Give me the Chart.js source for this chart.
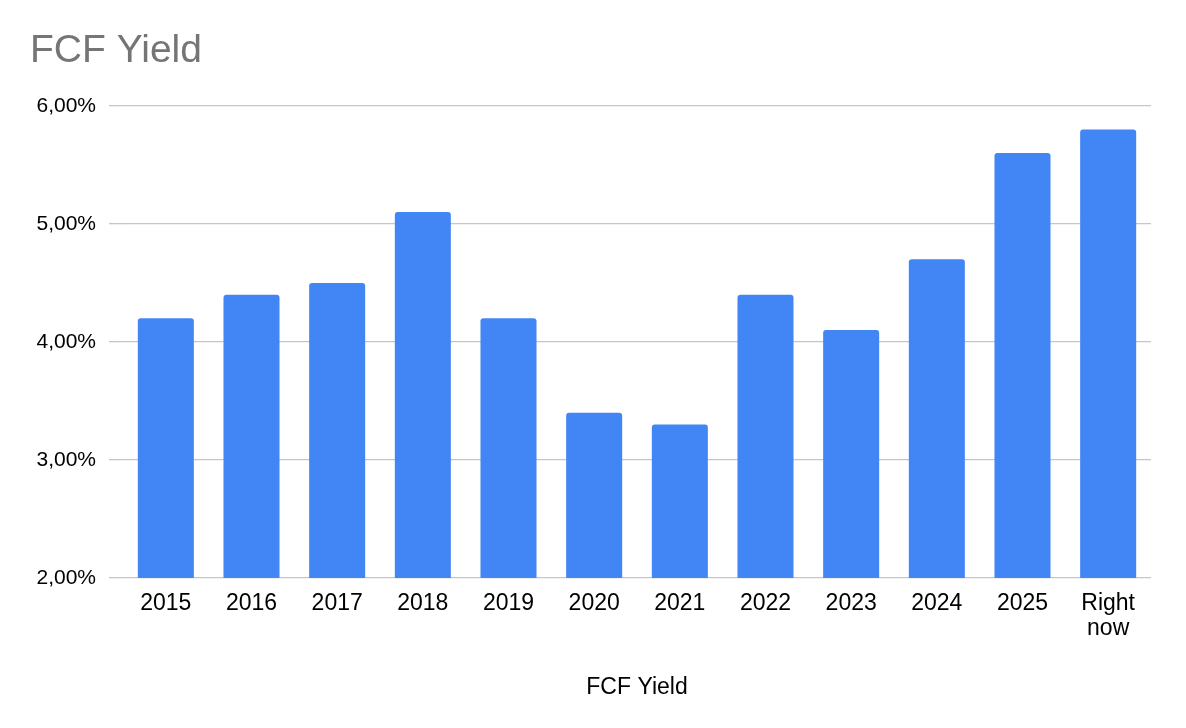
<!DOCTYPE html>
<html>
<head>
<meta charset="utf-8">
<title>FCF Yield</title>
<script src="https://cdn.jsdelivr.net/npm/chart.js@4.4.1/dist/chart.umd.min.js"></script>
<style>
    html, body { margin: 0; padding: 0; background: #ffffff; }
    #wrap { width: 1186px; height: 728px; }
</style>
</head>
<body>
<div id="wrap"><canvas id="myChart" width="1186" height="728"></canvas></div>
<script>
// Chart values
const years = ['2015', '2016', '2017', '2018', '2019', '2020', '2021', '2022', '2023', '2024', '2025', ['Right', 'now']];
const fcfYield = [4.2, 4.4, 4.5, 5.1, 4.2, 3.4, 3.3, 4.4, 4.1, 4.7, 5.6, 5.8];
const yTicks = [2, 3, 4, 5, 6];

const fontFamily = '"Liberation Sans", Arial, Helvetica, sans-serif';

// Format a tick like 6,00%
function percentLabel(v) {
    return v.toFixed(2).replace('.', ',') + '%';
}

const ctx = document.getElementById('myChart').getContext('2d');
const chart = new Chart(ctx, {
    type: 'bar',
    data: {
        labels: years,
        datasets: [{
            label: 'FCF Yield',
            data: fcfYield,
            backgroundColor: '#4285f4',
            borderRadius: 3,
            barPercentage: 0.654,
            categoryPercentage: 1
        }]
    },
    options: {
        responsive: false,
        animation: false,
        devicePixelRatio: 1,
        layout: {
            padding: { left: 30, right: 35, top: 0, bottom: 20 }
        },
        plugins: {
            legend: { display: false },
            tooltip: { enabled: false },
            title: {
                display: true,
                text: 'FCF Yield',
                align: 'start',
                color: '#757575',
                font: { family: fontFamily, size: 39, weight: 'normal' },
                padding: { top: 28, bottom: 31 }
            }
        },
        scales: {
            y: {
                min: 2,
                max: 6,
                afterBuildTicks: (scale) => {
                    scale.ticks = yTicks.map(v => ({ value: v }));
                },
                afterFit: (scale) => {
                    scale.width = 93;
                },
                border: { display: false },
                grid: {
                    color: '#c6c6c6',
                    lineWidth: 1.3,
                    drawTicks: true,
                    tickLength: 14
                },
                ticks: {
                    color: '#000000',
                    padding: 13,
                    font: { family: fontFamily, size: 21 },
                    callback: (value) => percentLabel(value)
                }
            },
            x: {
                afterFit: (scale) => {
                    scale.height = 130;
                },
                border: { display: false },
                grid: { display: false, drawTicks: false },
                ticks: {
                    color: '#000000',
                    padding: 14,
                    maxRotation: 0,
                    autoSkip: false,
                    font: { family: fontFamily, size: 23, lineHeight: 1.05 }
                },
                title: {
                    display: true,
                    text: 'FCF Yield',
                    color: '#000000',
                    font: { family: fontFamily, size: 23 },
                    padding: { top: 0, bottom: 7 }
                }
            }
        }
    }
});
</script>
</body>
</html>
